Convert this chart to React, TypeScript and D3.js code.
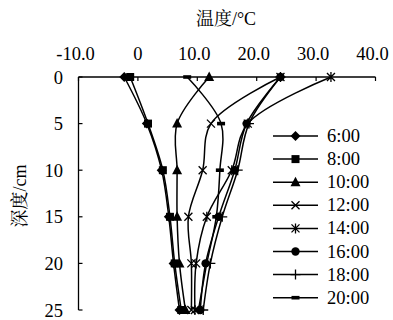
import React from "react";
import * as d3 from "d3";

const depths = [0, 5, 10, 15, 20, 25];
const seriesNames = ["6:00", "8:00", "10:00", "12:00", "14:00", "16:00", "18:00", "20:00"];
const t0600 = [-2.3, 1.5, 4.0, 5.2, 6.0, 7.0];
const t0800 = [-1.3, 1.7, 4.2, 5.4, 6.2, 7.3];
const t1000 = [12.0, 6.6, 6.6, 6.6, 7.0, 8.0];
const t1200 = [24.0, 12.3, 10.9, 8.5, 9.0, 9.0];
const t1400 = [32.5, 18.5, 15.8, 11.6, 9.8, 9.6];
const t1600 = [24.0, 18.3, 16.3, 13.6, 11.4, 10.5];
const t1800 = [24.0, 18.7, 16.8, 14.2, 12.2, 11.0];
const t2000 = [8.3, 14.0, 13.8, 13.2, 11.6, 10.2];
const seriesValues = [t0600, t0800, t1000, t1200, t1400, t1600, t1800, t2000];
const markerTypes = ["diamond", "square", "triangle", "x", "star", "circle", "plus", "dash"];
const xTicks = [-10, 0, 10, 20, 30, 40];
const yTicks = [0, 5, 10, 15, 20, 25];

const FONT = "'Liberation Serif', 'Times New Roman', 'Noto Serif CJK SC', 'Noto Sans CJK SC', serif";

function Marker({ type, x, y }: { type: string; x: number; y: number }) {
  const s = 4;
  switch (type) {
    case "diamond":
      return <path d={`M${x},${y - 5}L${x + 5},${y}L${x},${y + 5}L${x - 5},${y}Z`} fill="#000" />;
    case "square":
      return <rect x={x - 4} y={y - 4} width={8} height={8} fill="#000" />;
    case "triangle":
      return <path d={`M${x},${y - 5.5}L${x + 5},${y + 4}L${x - 5},${y + 4}Z`} fill="#000" />;
    case "x":
      return (
        <path d={`M${x - s},${y - s}L${x + s},${y + s}M${x - s},${y + s}L${x + s},${y - s}`} stroke="#000" strokeWidth={1.3} fill="none" />
      );
    case "star":
      return (
        <path
          d={`M${x - s},${y - s}L${x + s},${y + s}M${x - s},${y + s}L${x + s},${y - s}M${x},${y - 5}L${x},${y + 5}`}
          stroke="#000"
          strokeWidth={1.3}
          fill="none"
        />
      );
    case "circle":
      return <circle cx={x} cy={y} r={4.2} fill="#000" />;
    case "plus":
      return <path d={`M${x - 5},${y}L${x + 5},${y}M${x},${y - 5}L${x},${y + 5}`} stroke="#000" strokeWidth={1.3} fill="none" />;
    case "dash":
      return <rect x={x - 4} y={y - 1.8} width={8} height={3.6} fill="#000" />;
    default:
      return null;
  }
}

export default function App() {
  const W = 393;
  const H = 320;
  const x = d3.scaleLinear().domain([-10, 40]).range([78.5, 375.5]);
  const y = d3.scaleLinear().domain([0, 25]).range([77, 310]);
  const line = d3
    .line<[number, number]>()
    .x((d) => x(d[0]))
    .y((d) => y(d[1]))
    .curve(d3.curveCatmullRom.alpha(0.5));

  return (
    <svg width={W} height={H} style={{ position: "absolute", left: 0, top: 0, background: "#fff" }} fontFamily={FONT}>
      <rect width={W} height={H} fill="#fff" />
      {/* title */}
      <text x={226} y={25} textAnchor="middle" fontSize={18}>
        温度/°C
      </text>
      {/* y title */}
      <text transform="translate(26,196) rotate(-90)" textAnchor="middle" fontSize={18}>
        深度/cm
      </text>
      {/* x axis */}
      <line x1={x(-10)} x2={x(40)} y1={y(0)} y2={y(0)} stroke="#000" strokeWidth={1.3} />
      {xTicks.map((t) => (
        <g key={t}>
          <line x1={x(t)} x2={x(t)} y1={y(0)} y2={y(0) + 4} stroke="#000" strokeWidth={1.2} />
          <text x={x(t) - (t === -10 ? 3 : t === 0 ? 0 : 3)} y={60} textAnchor="middle" fontSize={18.5}>
            {t === 0 ? "0" : t.toFixed(1)}
          </text>
        </g>
      ))}
      {/* y axis */}
      <line x1={x(-10)} x2={x(-10)} y1={y(0)} y2={y(25)} stroke="#000" strokeWidth={1.3} />
      {yTicks.map((t) => (
        <g key={t}>
          <line x1={x(-10)} x2={x(-10) + 4} y1={y(t)} y2={y(t)} stroke="#000" strokeWidth={1.2} />
          <text x={63} y={y(t) + 6.5} textAnchor="end" fontSize={18.5}>
            {t}
          </text>
        </g>
      ))}
      {/* series */}
      {seriesValues.map((vals, i) => {
        const pts: [number, number][] = vals.map((v, j) => [v, depths[j]]);
        return (
          <g key={seriesNames[i]}>
            <path d={line(pts) || ""} fill="none" stroke="#000" strokeWidth={1.5} />
            {pts.map((p, j) => (
              <Marker key={j} type={markerTypes[i]} x={x(p[0])} y={y(p[1])} />
            ))}
          </g>
        );
      })}
      {/* legend */}
      {seriesNames.map((n, i) => {
        const ly = 136 + i * 23.1;
        return (
          <g key={n}>
            <line x1={273} x2={318} y1={ly} y2={ly} stroke="#000" strokeWidth={1.5} />
            <Marker type={markerTypes[i]} x={295.5} y={ly} />
            <text x={327} y={ly + 6} fontSize={18.5}>
              {n}
            </text>
          </g>
        );
      })}
    </svg>
  );
}
